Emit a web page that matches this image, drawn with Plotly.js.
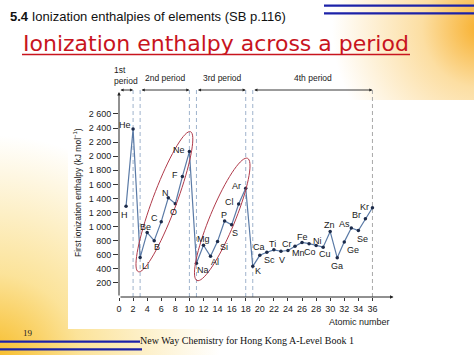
<!DOCTYPE html>
<html>
<head>
<meta charset="utf-8">
<script src="https://cdn.plot.ly/plotly-3.0.1.min.js"></script>
<style>
  html, body { margin:0; padding:0; }
  #bg { position:absolute; left:0; top:0; width:474px; height:355px; overflow:hidden;
    background:
      radial-gradient(circle 150px at 482px 28px, rgba(247,170,30,0.95) 0%, rgba(250,200,100,0.6) 40%, rgba(255,255,255,0) 100%),
      radial-gradient(circle 230px at -10px 365px, rgba(247,185,30,1) 0%, rgba(250,215,110,0.7) 40%, rgba(255,255,255,0) 100%),
      #ffffff; }
  #panel { position:absolute; left:68px; top:100px; width:406px; height:229px; background:#ffffff; }
  #chart { position:absolute; left:0; top:0; width:474px; height:355px; }
</style>
</head>
<body>
<div id="bg"><div id="panel"></div></div>
<div id="chart"></div>
<script>
// ---- data ----
const atomicNumbers = [1,2,3,4,5,6,7,8,9,10,11,12,13,14,15,16,17,18,19,20,21,22,23,24,25,26,27,28,29,30,31,32,33,34,35,36];
const symbols = ['H','He','Li','Be','B','C','N','O','F','Ne','Na','Mg','Al','Si','P','S','Cl','Ar',
                 'K','Ca','Sc','Ti','V','Cr','Mn','Fe','Co','Ni','Cu','Zn','Ga','Ge','As','Se','Br','Kr'];
const ionizationEnthalpy = [1290,2385,560,915,800,1070,1410,1325,1710,2065,480,735,578,790,1080,1025,1320,1545,
                            436,592,635,670,650,660,720,775,758,730,708,929,556,783,980,943,1110,1268];
const xTickVals = [0,2,4,6,8,10,12,14,16,18,20,22,24,26,28,30,32,34,36];
const yTickVals = [200,400,600,800,1000,1200,1400,1600,1800,2000,2200,2400,2600];
const yTickText = ['200','400','600','800','1 000','1 200','1 400','1 600','1 800','2 000','2 200','2 400','2 600'];
const periodBoundaries = [2,3,10,11,18,19,36];
const periods = [{name:'1st<br>period', from:0, to:2}, {name:'2nd period', from:3, to:10},
                 {name:'3rd period', from:11, to:18}, {name:'4th period', from:19, to:36}];

// label placement (pixel offsets from each point), separate from data
const labelDx = [-2,-8,5,-2,3,-7,-3,-2,-7,-10,7,0,4,6,-1,3,-9,-9, 5,-1,3,-1,1,-1,3,0,1,1,2,-1,0,9,-7,4,-9,-8];
const labelDy = [9,-4,8,-6,6,-4,-5,8,-2,-2,7,-6,6,6,-6,8,-2,-2, 5,-8,8,-6,9,-7,7,-5,8,-5,7,-7,8,8,-4,8,-4,-1];

// ---- geometry ----
const W=474, H=355, L=119, R=79, T=84, B=58;
const PW = W-L-R, PH = H-T-B;
const XMAX = PW/7.04, YMAX = PH/0.0704;
const px2x = p => (p-L)/PW;
const py2y = p => (H-B-p)/PH;
const pyData = p => (H-B-p)*0.0704 === 0 ? 0 : (H-B-p)/0.0704;

const FONT = 'Liberation Sans, Arial, sans-serif';

const trace = {
  x: atomicNumbers, y: ionizationEnthalpy, type:'scatter', mode:'lines+markers',
  line:{color:'#5a7aa6', width:1.2},
  marker:{size:3.5, color:'#1c2b4a'},
  hoverinfo:'skip', cliponaxis:false
};

const annotations = [];
symbols.forEach((s,i)=>{
  annotations.push({x:atomicNumbers[i], y:ionizationEnthalpy[i], xref:'x', yref:'y', text:s, showarrow:false,
    xshift:labelDx[i], yshift:-labelDy[i], xanchor:'center', yanchor:'middle',
    font:{family:FONT, size:9, color:'#1a1a1a'}});
});
// period arrows and labels
const arrowY = pyData(90);
periods.forEach(p=>{
  annotations.push({x:p.to, y:arrowY, ax:p.from, ay:arrowY, xref:'x', yref:'y', axref:'x', ayref:'y',
    text:'', showarrow:true, arrowside:'end+start', arrowhead:2, arrowsize:0.7, arrowwidth:0.9, arrowcolor:'#222'});
});
annotations.push({x:px2x(126), y:py2y(75), xref:'paper', yref:'paper', text:'1st<br>period', showarrow:false,
  align:'left', xanchor:'center', yanchor:'middle', font:{family:FONT, size:8.5, color:'#1a1a1a'}});
annotations.push({x:px2x(165), y:py2y(78.5), xref:'paper', yref:'paper', text:'2nd period', showarrow:false,
  xanchor:'center', yanchor:'middle', font:{family:FONT, size:8.5, color:'#1a1a1a'}});
annotations.push({x:px2x(222), y:py2y(78.5), xref:'paper', yref:'paper', text:'3rd period', showarrow:false,
  xanchor:'center', yanchor:'middle', font:{family:FONT, size:8.5, color:'#1a1a1a'}});
annotations.push({x:px2x(313), y:py2y(78.5), xref:'paper', yref:'paper', text:'4th period', showarrow:false,
  xanchor:'center', yanchor:'middle', font:{family:FONT, size:8.5, color:'#1a1a1a'}});
// axis arrows
annotations.push({x:0, y:pyData(92), ax:0, ay:0, xref:'x', yref:'y', axref:'x', ayref:'y', text:'', showarrow:true,
  arrowhead:2, arrowsize:0.7, arrowwidth:1, arrowcolor:'#222'});
annotations.push({x:(393.5-L)/7.04, y:0, ax:0, ay:0, xref:'x', yref:'y', axref:'x', ayref:'y', text:'', showarrow:true,
  arrowhead:2, arrowsize:0.7, arrowwidth:1, arrowcolor:'#222'});
// axis titles
annotations.push({x:px2x(392), y:py2y(322), xref:'paper', yref:'paper', text:'Atomic number', showarrow:false,
  xanchor:'right', yanchor:'middle', font:{family:FONT, size:9, color:'#1a1a1a'}});
annotations.push({x:px2x(77), y:py2y(193), xref:'paper', yref:'paper', text:'First ionization enthalpy (kJ mol<sup>−1</sup>)',
  showarrow:false, textangle:-90, xanchor:'center', yanchor:'middle', font:{family:FONT, size:8.5, color:'#1a1a1a'}});
// slide texts
annotations.push({x:px2x(8), y:py2y(16), xref:'paper', yref:'paper', text:'<b>5.4</b> Ionization enthalpies of elements (SB p.116)',
  showarrow:false, xanchor:'left', yanchor:'middle', font:{family:FONT, size:13, color:'#111'}});
annotations.push({x:px2x(216), y:py2y(44), xref:'paper', yref:'paper', text:'Ionization enthalpy across a period',
  showarrow:false, xanchor:'center', yanchor:'middle', font:{family:'DejaVu Sans, sans-serif', size:22, color:'#c8141e'}});
annotations.push({x:px2x(28), y:py2y(333), xref:'paper', yref:'paper', text:'19',
  showarrow:false, xanchor:'center', yanchor:'middle', font:{family:'Liberation Serif, serif', size:9, color:'#222'}});
annotations.push({x:px2x(138), y:py2y(340), xref:'paper', yref:'paper', text:'New Way Chemistry for Hong Kong A-Level Book 1',
  showarrow:false, xanchor:'left', yanchor:'middle', font:{family:'Liberation Serif, serif', size:10, color:'#111'}});

const shapes = [];
periodBoundaries.forEach(b=>{
  shapes.push({type:'line', xref:'x', yref:'y', x0:b, x1:b, y0:0, y1:pyData(88),
    line:{color: b===36 ? '#a8a8a8' : '#9fb3cc', width:1, dash:'4px,3px'}, layer:'below'});
});
function ellipsePath(x1,y1,x2,y2,b){
  const cx=(x1+x2)/2, cy=(y1+y2)/2, dx=x2-x1, dy=y2-y1;
  const a=Math.sqrt(dx*dx+dy*dy)/2, th=Math.atan2(dy,dx);
  let d='';
  for(let k=0;k<=72;k++){
    const t=k/72*2*Math.PI, ex=a*Math.cos(t), ey=b*Math.sin(t);
    const px=cx+ex*Math.cos(th)-ey*Math.sin(th), py=cy+ex*Math.sin(th)+ey*Math.cos(th);
    d += (k===0?'M':'L') + px2x(px).toFixed(5) + ',' + py2y(py).toFixed(5);
  }
  return d+'Z';
}
shapes.push({type:'path', xref:'paper', yref:'paper', path:ellipsePath(138.3,271.7,190.5,131.7,12), line:{color:'#b03a4a', width:1}});
shapes.push({type:'path', xref:'paper', yref:'paper', path:ellipsePath(197,280.5,247.5,158.3,12.5), line:{color:'#b03a4a', width:1}});
// title underline
shapes.push({type:'line', xref:'paper', yref:'paper', x0:px2x(22), x1:px2x(410), y0:py2y(54.5), y1:py2y(54.5), line:{color:'#c8141e', width:1.5}});
// blue decorative lines
shapes.push({type:'line', xref:'paper', yref:'paper', x0:px2x(324), x1:px2x(474), y0:py2y(5.7), y1:py2y(5.7), line:{color:'#1c22a8', width:2.2}});
shapes.push({type:'line', xref:'paper', yref:'paper', x0:px2x(324), x1:px2x(474), y0:py2y(13.3), y1:py2y(13.3), line:{color:'#1c22a8', width:2.2}});
shapes.push({type:'line', xref:'paper', yref:'paper', x0:px2x(0), x1:px2x(140), y0:py2y(341.7), y1:py2y(341.7), line:{color:'#1c22a8', width:2.2}});
shapes.push({type:'line', xref:'paper', yref:'paper', x0:px2x(0), x1:px2x(142), y0:py2y(349.3), y1:py2y(349.3), line:{color:'#1c22a8', width:2.2}});

const layout = {
  width:W, height:H, margin:{l:L, r:R, t:T, b:B, pad:0},
  paper_bgcolor:'rgba(0,0,0,0)', plot_bgcolor:'rgba(0,0,0,0)',
  showlegend:false,
  xaxis:{range:[0,XMAX], tickvals:xTickVals, ticks:'outside', ticklen:3, tickcolor:'#333', tickwidth:1,
    showgrid:false, zeroline:false, showline:false, fixedrange:true,
    tickfont:{family:FONT, size:9, color:'#222'}},
  yaxis:{range:[0,YMAX], tickvals:yTickVals, ticktext:yTickText, ticks:'outside', ticklen:5, tickcolor:'#333', tickwidth:1,
    showgrid:false, zeroline:false, showline:false, fixedrange:true,
    tickfont:{family:FONT, size:9, color:'#222'}},
  annotations: annotations, shapes: shapes
};
Plotly.newPlot('chart', [trace], layout, {displayModeBar:false, staticPlot:true});
</script>
</body>
</html>
